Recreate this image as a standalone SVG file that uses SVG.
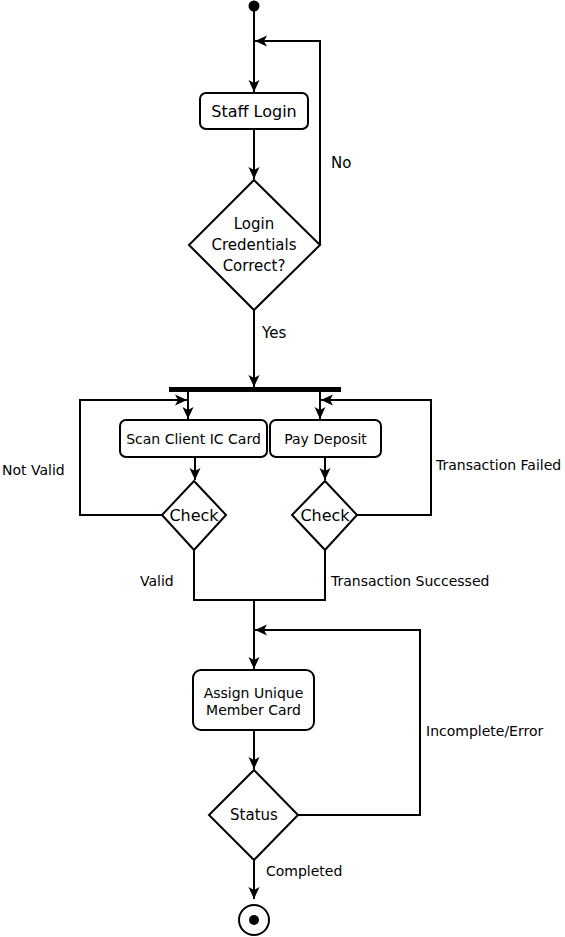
<svg xmlns="http://www.w3.org/2000/svg" width="565" height="937" viewBox="0 0 565 937">
<defs>
<marker id="arr" markerWidth="14" markerHeight="14" viewBox="0 0 14 14" refX="13" refY="7" orient="auto" markerUnits="userSpaceOnUse">
<path d="M1,1.5 L13,7 L1,12.5 L4,7 Z" fill="#000"/>
</marker>
</defs>
<style>
.n{fill:#fff;stroke:#000;stroke-width:2}
.c{fill:none;stroke:#000;stroke-width:2}
.t{font-family:"DejaVu Sans",sans-serif;font-size:14px;fill:#000;text-anchor:middle}
.tl{font-family:"DejaVu Sans",sans-serif;font-size:14px;fill:#000}
.tb{font-family:"DejaVu Sans",sans-serif;font-size:15px;fill:#000;text-anchor:middle}
.tbl{font-family:"DejaVu Sans",sans-serif;font-size:15px;fill:#000}
</style>
<rect width="565" height="937" fill="#fff"/>
<g id="connectors">
<path class="c" d="M254,11 V92" marker-end="url(#arr)"/>
<path class="c" d="M320,245 V41 H255" marker-end="url(#arr)"/>
<path class="c" d="M254,129 V179" marker-end="url(#arr)"/>
<path class="c" d="M254,310 V387" marker-end="url(#arr)"/>
<path class="c" d="M188,392 V419" marker-end="url(#arr)"/>
<path class="c" d="M320,392 V419" marker-end="url(#arr)"/>
<path class="c" d="M195,457 V480" marker-end="url(#arr)"/>
<path class="c" d="M325,457 V480" marker-end="url(#arr)"/>
<path class="c" d="M162,515 H80 V400 H187" marker-end="url(#arr)"/>
<path class="c" d="M357,515 H431 V400 H321" marker-end="url(#arr)"/>
<path class="c" d="M194,550 V600 H325 V550"/>
<path class="c" d="M254,600 V669" stroke-width="3" marker-end="url(#arr)"/>
<path class="c" d="M298,815 H420 V630 H255" marker-end="url(#arr)"/>
<path class="c" d="M254,730 V769" marker-end="url(#arr)"/>
<path class="c" d="M254,860 V899" marker-end="url(#arr)"/>
<text class="tbl" x="331" y="168">No</text>
<text class="tbl" x="262" y="338">Yes</text>
<text class="tl" x="2" y="475">Not Valid</text>
<text class="tl" x="436" y="470">Transaction Failed</text>
<text class="tl" x="140" y="586">Valid</text>
<text class="tl" x="331" y="586">Transaction Successed</text>
<text class="tl" x="426" y="736">Incomplete/Error</text>
<text class="tl" x="266" y="876">Completed</text>
</g>
<g id="start"><circle cx="254" cy="6" r="5.5" fill="#000"/></g>
<g id="staff-login"><rect class="n" x="200" y="93" width="108" height="36" rx="6"/><text class="tb" x="254" y="117" style="font-size:16px">Staff Login</text></g>
<g id="login-check"><polygon class="n" points="254,180 320,245 254,310 189,245"/>
<text class="tb" x="254" y="229">Login</text><text class="tb" x="254" y="250">Credentials</text><text class="tb" x="254" y="271">Correct?</text></g>
<g id="fork"><rect x="169" y="387" width="172" height="5" fill="#000"/></g>
<g id="scan-ic"><rect class="n" x="120" y="420" width="147" height="37" rx="6"/><text class="t" x="193.5" y="444">Scan Client IC Card</text></g>
<g id="pay-deposit"><rect class="n" x="270" y="420" width="111" height="37" rx="6"/><text class="t" x="325.5" y="444">Pay Deposit</text></g>
<g id="check1"><polygon class="n" points="194,481 226,515 194,550 162,515"/><text class="tb" x="194" y="521" style="font-size:16px">Check</text></g>
<g id="check2"><polygon class="n" points="325,481 357,515 325,550 292,515"/><text class="tb" x="325" y="521" style="font-size:16px">Check</text></g>
<g id="assign"><rect class="n" x="193" y="670" width="121" height="60" rx="8"/><text class="t" x="253.5" y="698">Assign Unique</text><text class="t" x="253.5" y="715">Member Card</text></g>
<g id="status"><polygon class="n" points="254,770 298,815 254,860 209,815"/><text class="tb" x="254" y="820">Status</text></g>
<g id="end"><circle cx="254" cy="920" r="15" fill="#fff" stroke="#000" stroke-width="2"/><circle cx="254" cy="920" r="5" fill="#000"/></g>
</svg>
